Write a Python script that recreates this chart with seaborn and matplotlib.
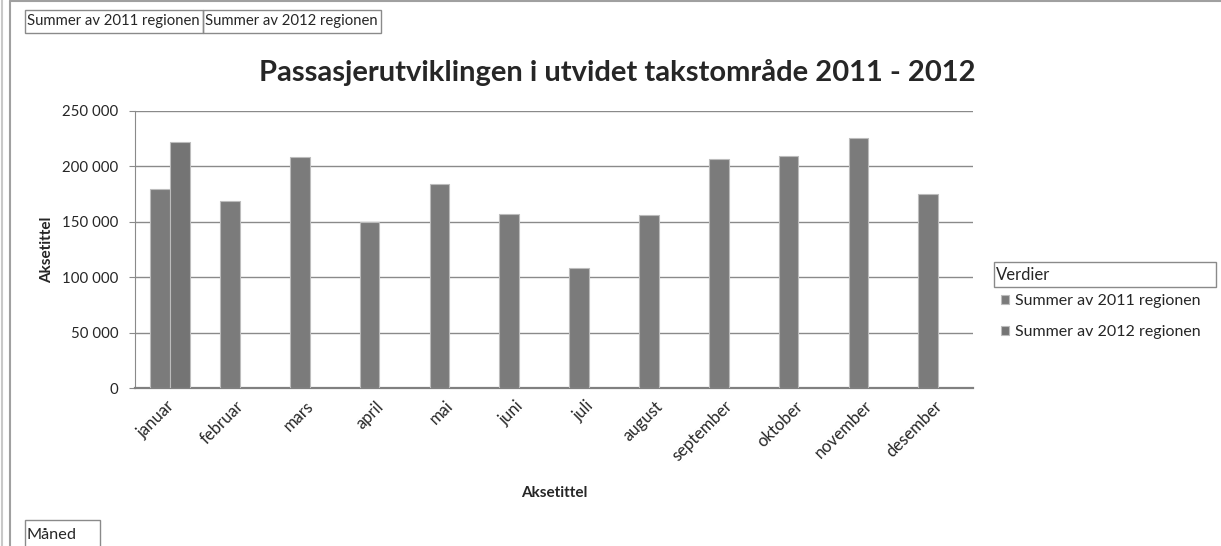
import numpy as np
import pandas as pd
import seaborn as sns
import matplotlib.pyplot as plt
import matplotlib.transforms as mtransforms
from matplotlib.patches import Rectangle
from matplotlib.ticker import FuncFormatter

# values
months = ['januar', 'februar', 'mars', 'april', 'mai', 'juni', 'juli',
          'august', 'september', 'oktober', 'november', 'desember']
sum_2011 = [179300, 169000, 208500, 149500, 183800, 157000, 108300,
            155800, 206400, 209700, 225900, 174800]
sum_2012 = [222000] + [np.nan] * 11
series = ['Summer av 2011 regionen', 'Summer av 2012 regionen']

df = pd.concat([
    pd.DataFrame({'Måned': months, 'Serie': series[0], 'Verdi': sum_2011}),
    pd.DataFrame({'Måned': months, 'Serie': series[1], 'Verdi': sum_2012}),
]).dropna()

sns.set_style('white')
plt.rcParams['font.family'] = ['Lato', 'DejaVu Sans']

W, H = 1221, 546
fig = plt.figure(figsize=(W / 100, H / 100), dpi=100)
ax = fig.add_axes([135 / W, 1 - 388 / H, (973 - 135) / W, (388 - 111) / H])

sns.barplot(data=df, x='Måned', y='Verdi', hue='Serie', order=months,
            hue_order=series, palette=['#7b7b7b', '#747474'], width=0.565,
            edgecolor='#bcbcbc', linewidth=0.8, ax=ax, legend=True, zorder=3)

ax.set_ylim(0, 250000)
ax.set_xlim(-0.5, 11.5)
ax.set_yticks(range(0, 250001, 50000))
ax.yaxis.set_major_formatter(FuncFormatter(lambda v, p: f'{int(v):,}'.replace(',', ' ')))
ax.grid(axis='y', color='#8a8a8a', linewidth=1, zorder=0)
ax.set_axisbelow(True)
for s in ['top', 'right']:
    ax.spines[s].set_visible(False)
ax.spines['left'].set_color('#8a8a8a')
ax.spines['bottom'].set_color('#808080')
ax.spines['bottom'].set_linewidth(1.6)
ax.tick_params(axis='y', length=4, color='#8a8a8a', labelsize=10.8, pad=8, left=True)
ax.tick_params(axis='x', length=0, labelsize=12, pad=5)
shift = mtransforms.ScaledTranslation(-4 / 100, -3 / 100, fig.dpi_scale_trans)
for lbl in ax.get_xticklabels():
    lbl.set_rotation(45)
    lbl.set_ha('right')
    lbl.set_rotation_mode('anchor')
    lbl.set_transform(lbl.get_transform() + shift)

ax.set_ylabel('Aksetittel', fontsize=11, fontweight='bold', labelpad=5.5)
ax.set_xlabel('Aksetittel', fontsize=11, fontweight='bold', labelpad=16)

fig.text(617 / W, 1 - 72 / H, 'Passasjerutviklingen i utvidet takstområde 2011 - 2012',
         ha='center', va='center', fontsize=21, fontweight='bold')

# legend on the right
handles, labels = ax.get_legend_handles_labels()
ax.legend(handles, labels, loc='upper left', bbox_to_anchor=(1001 / W, 1 - 294 / H),
          bbox_transform=fig.transFigure, frameon=False, fontsize=11.5,
          handlelength=0.5, handleheight=0.5, handletextpad=0.4,
          labelspacing=1.06, borderpad=0, borderaxespad=0)
fig.patches.append(Rectangle((994 / W, 1 - 287 / H), 222 / W, 25 / H,
                             transform=fig.transFigure, fill=False,
                             edgecolor='#8a8a8a', linewidth=1))
fig.text(996 / W, 1 - 275 / H, 'Verdier', ha='left', va='center', fontsize=12)

# pivot field buttons
def button(x0, y0, w, h, label, size=10.7):
    fig.patches.append(Rectangle((x0 / W, 1 - (y0 + h) / H), w / W, h / H,
                                 transform=fig.transFigure, fill=False,
                                 edgecolor='#8a8a8a', linewidth=1))
    fig.text((x0 + 2) / W, 1 - (y0 + h / 2) / H, label, ha='left', va='center', fontsize=size)

button(25, 10, 178, 23, series[0])
button(203, 10, 178, 23, series[1])
button(25, 520, 75, 30, 'Måned', size=11.7)

# outer frame lines
fig.add_artist(plt.Line2D([2 / W, 2 / W], [0, 1], transform=fig.transFigure, color='#c8c8c8', lw=1.5))
fig.add_artist(plt.Line2D([10 / W, 10 / W], [0, 1 - 1 / H], transform=fig.transFigure, color='#a0a0a0', lw=1.5))
fig.add_artist(plt.Line2D([10 / W, 1], [1 - 1 / H, 1 - 1 / H], transform=fig.transFigure, color='#a0a0a0', lw=1.5))

fig.savefig('out.png', dpi=100, facecolor='white')
